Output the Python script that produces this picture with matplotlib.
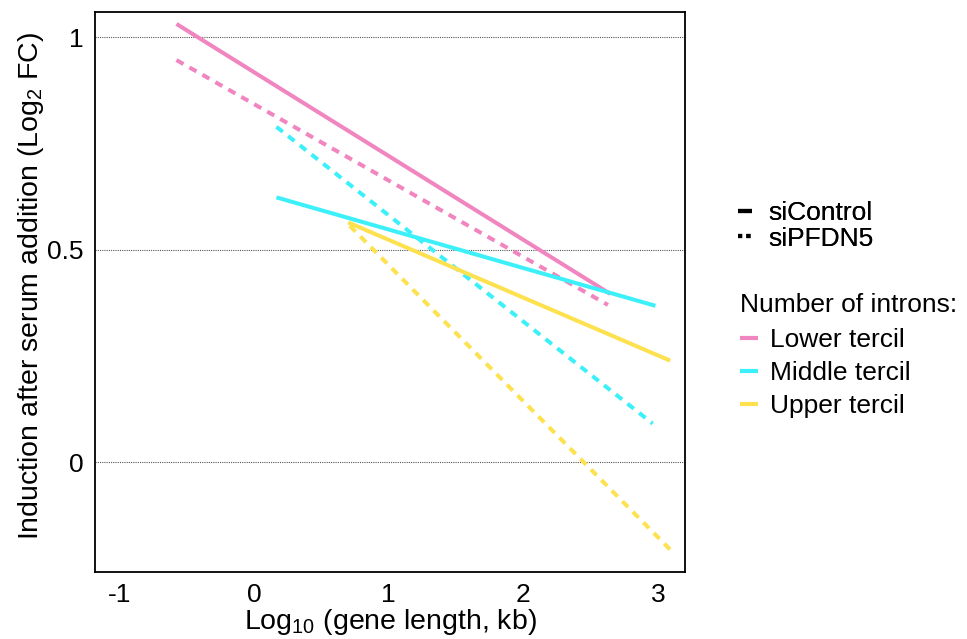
import matplotlib
matplotlib.use("Agg")
import matplotlib.pyplot as plt
from matplotlib.lines import Line2D

plt.rcParams['font.family'] = ['Liberation Sans', 'DejaVu Sans']
plt.rcParams['mathtext.fontset'] = 'custom'
plt.rcParams['mathtext.rm'] = 'Liberation Sans'
plt.rcParams['mathtext.it'] = 'Liberation Sans'
plt.rcParams['mathtext.default'] = 'regular'

# Data: x = log10 gene length (kb), y = log2 FC
groups = ["Lower tercil", "Middle tercil", "Upper tercil"]
colors = ["#F185C0", "#3CF0FA", "#FDE14E"]

ctrl_x = [[-0.575, 2.645], [0.167, 2.98], [0.70, 3.09]]
ctrl_y = [[1.031, 0.396], [0.623, 0.368], [0.564, 0.239]]
pfdn_x = [[-0.575, 2.628], [0.167, 2.96], [0.712, 3.095]]
pfdn_y = [[0.946, 0.370], [0.789, 0.091], [0.556, -0.207]]

xticks = [-1, 0, 1, 2, 3]
yticks = [0, 0.5, 1]
ytick_labels = ["0", "0.5", "1"]

fig = plt.figure(figsize=(9.67, 6.39), dpi=100)
ax = fig.add_axes([0.0982, 0.1049, 0.6102, 0.8763])

for y in yticks:
    ax.axhline(y, color="#555555", lw=0.8, ls=(0, (1, 1)), zorder=0)

lw = 2.9
for i in range(3):
    ax.plot(pfdn_x[i], pfdn_y[i], color=colors[i], lw=lw, ls=(0, (2.0, 1.7)),
            solid_capstyle='butt', dash_capstyle='butt', zorder=2)
for i in range(3):
    ax.plot(ctrl_x[i], ctrl_y[i], color=colors[i], lw=lw, solid_capstyle='butt', zorder=3)

ax.set_xlim(-1.18, 3.20)
ax.set_ylim(-0.258, 1.059)
ax.set_xticks(xticks)
ax.set_xticklabels([str(t) for t in xticks])
ax.set_yticks(yticks)
ax.set_yticklabels(ytick_labels)
ax.tick_params(length=0, labelsize=19, pad=8)
for s in ax.spines.values():
    s.set_linewidth(1.3)
    s.set_color("black")

ax.set_xlabel(r"Log$_{10}$ (gene length, kb)", fontsize=20.5, labelpad=0)
ax.set_ylabel(r"Induction after serum addition (Log$_{2}$ FC)", fontsize=20.5)
ax.yaxis.set_label_coords(-0.083, 0.51)

h1 = [Line2D([], [], color="black", lw=3, solid_capstyle='butt'),
      Line2D([], [], color="black", lw=3, ls=(0, (1, 1)), dash_capstyle='butt')]
leg1 = fig.legend(h1, ["siControl", "siPFDN5"], loc="upper left",
                  bbox_to_anchor=(0.763, 0.685), frameon=False, fontsize=19,
                  handlelength=0.55, handletextpad=0.6, labelspacing=0.05,
                  borderpad=0, borderaxespad=0)

h2 = [Line2D([], [], color=c, lw=3, solid_capstyle='butt') for c in colors]
leg2 = fig.legend(h2, groups, loc="upper left", title="Number of introns:",
                  title_fontsize=19, bbox_to_anchor=(0.765, 0.542), frameon=False,
                  fontsize=19, handlelength=0.7, handletextpad=0.45,
                  labelspacing=0.35, borderpad=0, borderaxespad=0, alignment="left")
leg2._legend_box.sep = 8
fig.add_artist(leg1)

fig.savefig("out.png", dpi=100)
